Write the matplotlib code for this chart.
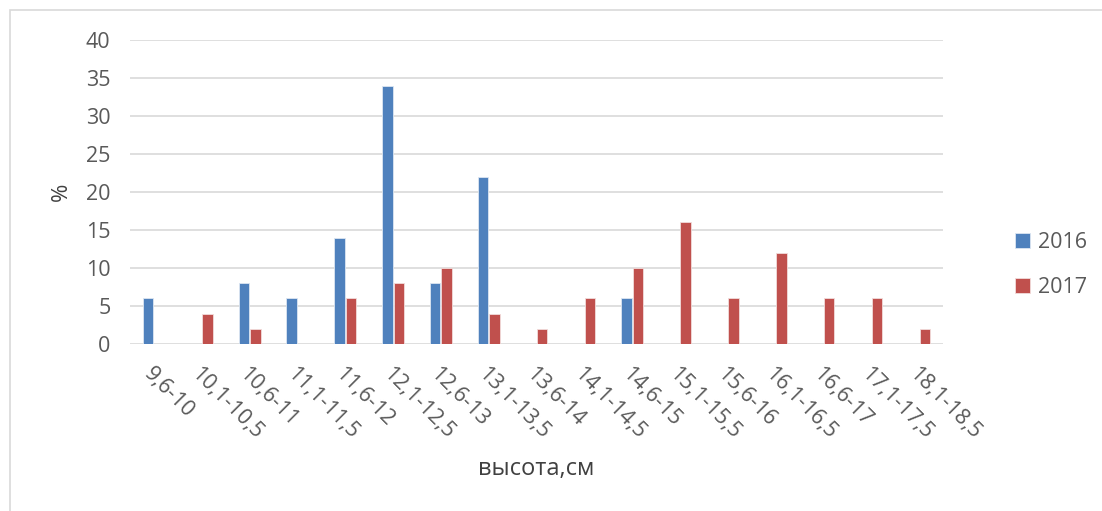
import numpy as np
import matplotlib.pyplot as plt
from matplotlib.patches import Rectangle

categories = ['9,6-10', '10,1-10,5', '10,6-11', '11,1-11,5', '11,6-12', '12,1-12,5',
              '12,6-13', '13,1-13,5', '13,6-14', '14,1-14,5', '14,6-15', '15,1-15,5',
              '15,6-16', '16,1-16,5', '16,6-17', '17,1-17,5', '18,1-18,5']
y2016 = [6, 0, 8, 6, 14, 34, 8, 22, 0, 0, 6, 0, 0, 0, 0, 0, 0]
y2017 = [0, 4, 2, 0, 6, 8, 10, 4, 2, 6, 10, 16, 6, 12, 6, 6, 2]
yticks = [0, 5, 10, 15, 20, 25, 30, 35, 40]

plt.rcParams['font.family'] = ['Open Sans', 'DejaVu Sans']
txt = '#595959'

fig = plt.figure(figsize=(11.02, 5.11), dpi=100)
# outer chart frame
fig.patches.append(Rectangle((10/1102, -0.1), 1.2, (511-10)/511 + 0.1, transform=fig.transFigure,
                             fill=False, edgecolor='#D9D9D9', linewidth=1.2))

ax = fig.add_axes([130/1102, 1 - 344/511, 813/1102, 304/511])
x = np.arange(len(categories))
w = 0.22
ax.bar(x - 0.12, y2016, w, color='#4F81BD', edgecolor='#DCE6F2', linewidth=0.6, label='2016', zorder=3)
ax.bar(x + 0.12, y2017, w, color='#C0504D', edgecolor='#F2DCDB', linewidth=0.6, label='2017', zorder=3)

ax.set_xlim(-0.5, len(categories) - 0.5)
ax.set_ylim(0, 40)
ax.set_yticks(yticks)
ax.yaxis.grid(True, color='#D9D9D9', linewidth=1.2, zorder=0)
for s in ax.spines.values():
    s.set_visible(False)
ax.tick_params(axis='both', length=0, colors=txt, labelsize=15.5)
ax.tick_params(axis='y', pad=14)
ax.set_xticks(x)
ax.set_xticklabels(categories, rotation=-45, ha='left', va='top', rotation_mode='anchor')
ax.tick_params(axis='x', pad=14)

ax.set_xlabel('высота,см', color='#404040', fontsize=17, labelpad=10)
ax.set_ylabel('%', color='#404040', fontsize=16, labelpad=10)

ax.legend(loc='center left', bbox_to_anchor=(1.065, 0.26), frameon=False, fontsize=15.5,
          labelcolor=txt, handlelength=0.7, handleheight=0.7, labelspacing=1.1, handletextpad=0.35)

fig.savefig('out.png', dpi=100)
